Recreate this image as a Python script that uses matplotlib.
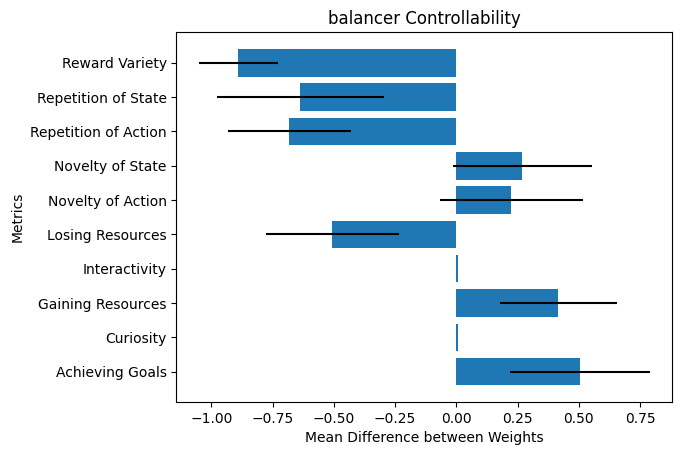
import matplotlib.pyplot as plt

# metrics listed bottom to top, same as barh draws them
metrics = ['Achieving Goals', 'Curiosity', 'Gaining Resources', 'Interactivity',
           'Losing Resources', 'Novelty of Action', 'Novelty of State',
           'Repetition of Action', 'Repetition of State', 'Reward Variety']
mean_diff = [0.505, 0.007, 0.417, 0.007, -0.507, 0.224, 0.269, -0.682, -0.637, -0.890]
err = [0.284, 0.0, 0.239, 0.0, 0.2715, 0.2915, 0.2835, 0.25, 0.342, 0.161]

fig, ax = plt.subplots(figsize=(6.81, 4.55), dpi=100)
ax.barh(metrics, mean_diff, xerr=err, color='#1f77b4', ecolor='black')

ax.set_xlabel('Mean Difference between Weights')
ax.set_ylabel('Metrics')
ax.set_title('balancer Controllability')

plt.subplots_adjust(left=0.259, right=0.987, bottom=0.116, top=0.929)
plt.savefig('out.png', dpi=100)
